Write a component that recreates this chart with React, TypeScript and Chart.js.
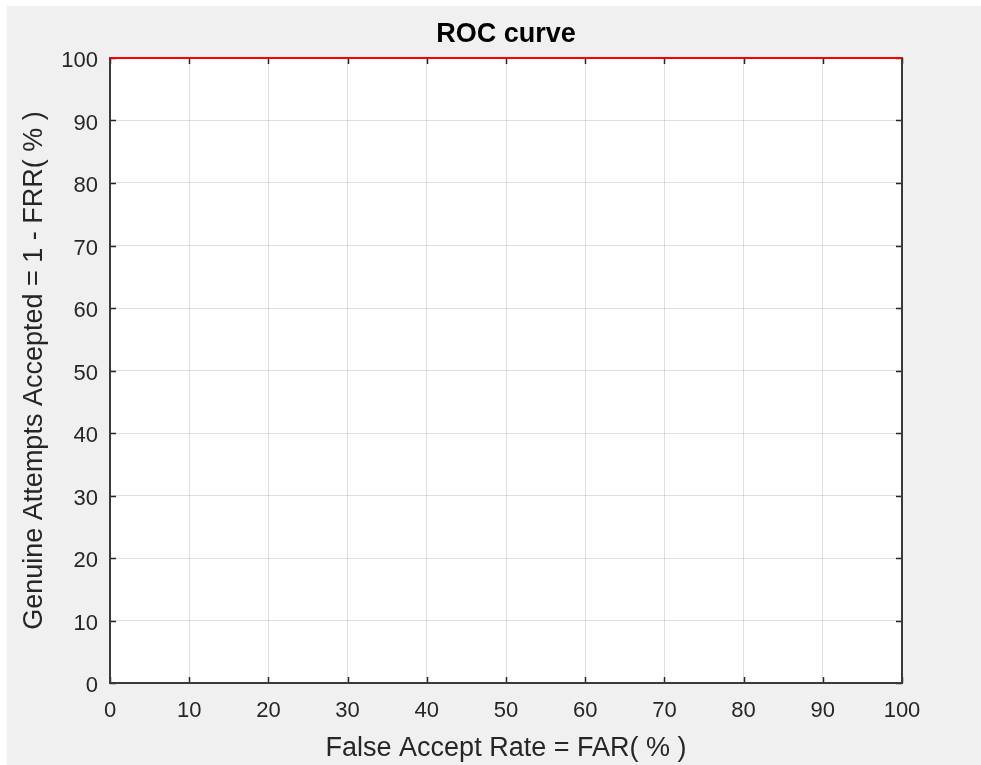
import React, { useEffect, useRef } from "react";
import { Chart, registerables } from "chart.js";

Chart.register(...registerables);

const chartTitle = "ROC curve";
const xTitle = "False Accept Rate = FAR( % )";
const yTitle = "Genuine Attempts Accepted = 1 - FRR( % )";
const farValues = [0, 100];
const garValues = [100, 100];
const axisMin = 0;
const axisMax = 100;
const tickStep = 10;

const FONT = "'Liberation Sans', Arial, Helvetica, sans-serif";
const AXIS_COLOR = "#262626";

const framePlugin = {
  id: "matlabFrame",
  beforeDraw(chart: any) {
    const { ctx, width, height, chartArea } = chart;
    ctx.save();
    ctx.fillStyle = "#ffffff";
    ctx.fillRect(0, 0, width, height);
    ctx.fillStyle = "#f0f0f0";
    ctx.fillRect(7, 6, width - 7, height - 6);
    ctx.fillStyle = "#ffffff";
    ctx.fillRect(chartArea.left, chartArea.top, chartArea.right - chartArea.left, chartArea.bottom - chartArea.top);
    ctx.restore();
  },
  beforeDatasetsDraw(chart: any) {
    const { ctx, chartArea } = chart;
    const xs = chart.scales.x;
    const ys = chart.scales.y;
    const tl = 6;
    ctx.save();
    ctx.strokeStyle = AXIS_COLOR;
    ctx.lineWidth = 1.5;
    ctx.beginPath();
    xs.ticks.forEach((t: any) => {
      const px = Math.round(xs.getPixelForValue(t.value)) + 0.5;
      ctx.moveTo(px, chartArea.bottom);
      ctx.lineTo(px, chartArea.bottom - tl);
      ctx.moveTo(px, chartArea.top);
      ctx.lineTo(px, chartArea.top + tl);
    });
    ys.ticks.forEach((t: any) => {
      const py = Math.round(ys.getPixelForValue(t.value)) + 0.5;
      ctx.moveTo(chartArea.left, py);
      ctx.lineTo(chartArea.left + tl, py);
      ctx.moveTo(chartArea.right, py);
      ctx.lineTo(chartArea.right - tl, py);
    });
    ctx.stroke();
    ctx.lineWidth = 2;
    ctx.strokeStyle = "#3a3a3a";
    ctx.strokeRect(chartArea.left, chartArea.top, chartArea.right - chartArea.left, chartArea.bottom - chartArea.top);
    ctx.restore();
  },
  afterDraw(chart: any) {
    const { ctx, chartArea } = chart;
    ctx.save();
    ctx.fillStyle = "#000000";
    ctx.font = `bold 27px ${FONT}`;
    ctx.textAlign = "center";
    ctx.textBaseline = "middle";
    ctx.fillText(chartTitle, (chartArea.left + chartArea.right) / 2, 35);
    ctx.restore();
  },
};

export default function App() {
  const canvasRef = useRef<HTMLCanvasElement | null>(null);

  useEffect(() => {
    const canvas = canvasRef.current;
    if (!canvas) return;
    const points = farValues.map((x, i) => ({ x, y: garValues[i] }));
    const chart = new Chart(canvas, {
      type: "line",
      data: {
        datasets: [
          {
            data: points,
            borderColor: "#ff0000",
            borderWidth: 2,
            pointRadius: 0,
            fill: false,
            tension: 0,
            clip: false as any,
          },
        ],
      },
      options: {
        animation: false,
        responsive: false,
        devicePixelRatio: 1,
        layout: { padding: { left: 0, top: 58, right: 79, bottom: 0 } },
        plugins: {
          legend: { display: false },
          tooltip: { enabled: false },
          title: { display: false },
        },
        scales: {
          x: {
            type: "linear",
            min: axisMin,
            max: axisMax,
            afterFit: (scale: any) => {
              scale.height = 82;
            },
            ticks: {
              stepSize: tickStep,
              color: AXIS_COLOR,
              font: { family: FONT, size: 22, lineHeight: 1.2 },
              padding: 15,
              maxRotation: 0,
              autoSkip: false,
            },
            grid: { color: "rgba(38,38,38,0.15)", lineWidth: 1, drawTicks: false },
            border: { display: false },
            title: {
              display: true,
              text: xTitle,
              color: AXIS_COLOR,
              font: { family: FONT, size: 27, lineHeight: 1.2 },
              padding: { top: 0, bottom: 0 },
            },
          },
          y: {
            type: "linear",
            min: axisMin,
            max: axisMax,
            afterFit: (scale: any) => {
              scale.width = 110;
            },
            ticks: {
              stepSize: tickStep,
              color: AXIS_COLOR,
              font: { family: FONT, size: 22, lineHeight: 1.2 },
              padding: 12,
              labelOffset: 3,
              autoSkip: false,
            },
            grid: { color: "rgba(38,38,38,0.15)", lineWidth: 1, drawTicks: false },
            border: { display: false },
            title: {
              display: true,
              text: yTitle,
              color: AXIS_COLOR,
              font: { family: FONT, size: 27, lineHeight: 1.2 },
              padding: { top: 18.8, bottom: 0 },
            },
          },
        },
      },
      plugins: [framePlugin],
    });
    return () => chart.destroy();
  }, []);

  return (
    <div style={{ position: "absolute", left: 0, top: 0, width: 981, height: 765 }}>
      <canvas ref={canvasRef} width={981} height={765} style={{ display: "block" }} />
    </div>
  );
}
